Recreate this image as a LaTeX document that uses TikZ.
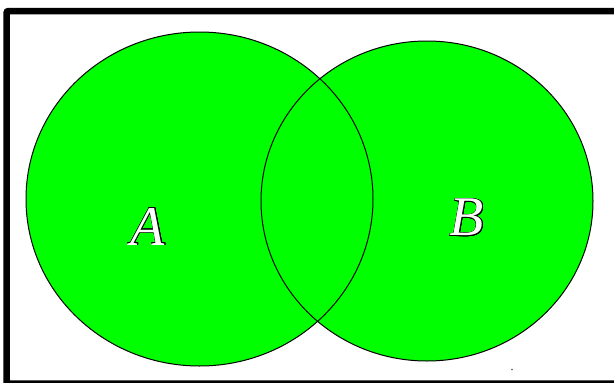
\documentclass[tikz,border=0pt]{standalone}
\usepackage{fontspec}
\setmainfont{Liberation Serif}
\usepackage[copies]{contour}
\contourlength{0.6pt}
\tikzset{
  setfill/.style={fill=vgreen, draw=none},
  setline/.style={draw=black, line width=1pt},
  setlabel/.style={inner sep=0pt, font=\fontsize{56}{64}\selectfont\itshape},
  frame/.style={draw=black, line width=6.5pt, rounded corners=2pt}
}
\definecolor{vgreen}{RGB}{0,255,0}
\begin{document}
\begin{tikzpicture}[x=1pt,y=-1pt]
\useasboundingbox (0,0) rectangle (614,383);
\fill[white] (0,0) rectangle (614,383);
% fills
\fill[setfill] (199.5,199) ellipse [x radius=173.5, y radius=167];
\fill[setfill] (427,201) ellipse [x radius=166, y radius=160];
% outlines
\draw[setline] (199.5,199) ellipse [x radius=173.5, y radius=167];
\draw[setline] (427,201) ellipse [x radius=166, y radius=160];
% labels
\node[setlabel] (A) at (148,227) {\contour{black}{\textcolor{white}{A}}};
\node[setlabel] (B) at (467,218) {\contour{black}{\textcolor{white}{B}}};
% small dot
\fill[black!70] (512,369.5) circle [radius=0.9];
% frame
\draw[frame] (6.5,11) rectangle (640,383.5);
\end{tikzpicture}
\end{document}
